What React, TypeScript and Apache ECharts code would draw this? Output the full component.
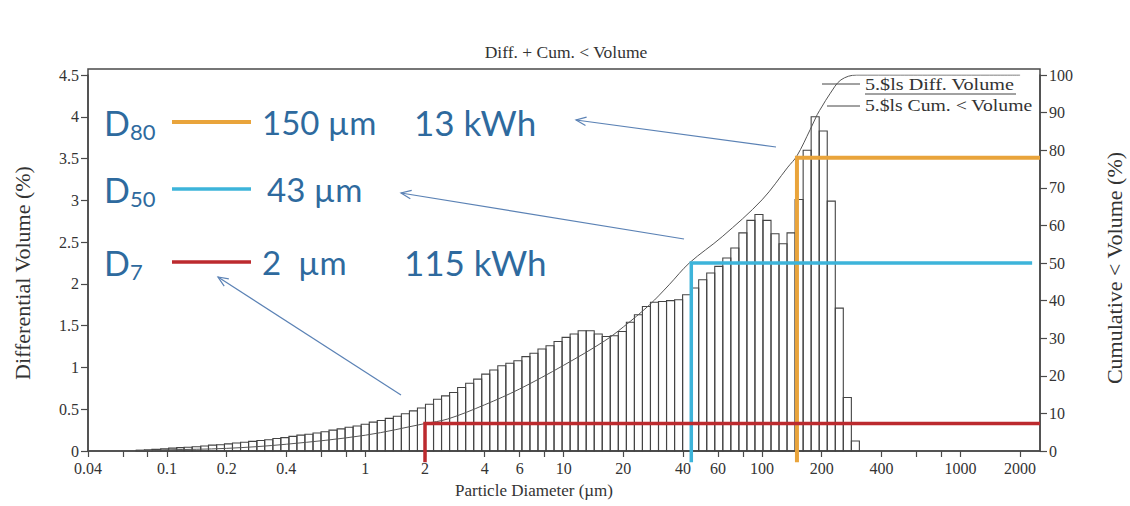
import React, { useEffect, useRef } from "react";
import * as echarts from "echarts";

// ---------- data ----------
const TITLE = "Diff. + Cum. < Volume";
const X_NAME = "Particle Diameter (µm)";
const Y_LEFT_NAME = "Differential Volume (%)";
const Y_RIGHT_NAME = "Cumulative < Volume (%)";
const LEGEND_DIFF = "5.$ls Diff. Volume";
const LEGEND_CUM = "5.$ls Cum. < Volume";

const X_MIN = 0.04;
const X_MAX = 2520;
const X_TICK_LABELS = [0.04, 0.1, 0.2, 0.4, 1, 2, 4, 6, 10, 20, 40, 60, 100, 200, 400, 1000, 2000];
const X_TICK_MARKS = [0.04, 0.06, 0.08, 0.1, 0.2, 0.4, 0.6, 0.8, 1, 2, 4, 6, 8, 10, 20, 40, 60, 80, 100, 200, 400, 600, 800, 1000, 2000];

// channel edges (µm) of the size classes that carry volume
const CHANNEL_EDGES = [
  0.070, 0.077, 0.084, 0.093, 0.102, 0.112, 0.122, 0.134, 0.148, 0.162,
  0.178, 0.195, 0.214, 0.235, 0.258, 0.284, 0.311, 0.342, 0.375, 0.412,
  0.452, 0.496, 0.545, 0.598, 0.656, 0.721, 0.791, 0.868, 0.953, 1.047,
  1.149, 1.261, 1.385, 1.520, 1.669, 1.832, 2.011, 2.208, 2.423, 2.660,
  2.920, 3.206, 3.519, 3.863, 4.241, 4.656, 5.111, 5.611, 6.159, 6.761,
  7.422, 8.148, 8.944, 9.819, 10.78, 11.83, 12.99, 14.26, 15.65, 17.18,
  18.86, 20.71, 22.73, 24.95, 27.39, 30.07, 33.01, 36.24, 39.78, 43.67,
  47.94, 52.63, 57.77, 63.42, 69.62, 76.43, 83.90, 92.10, 101.1, 111.0,
  121.8, 133.7, 146.8, 161.2, 176.9, 194.2, 213.2, 234.1, 256.9, 282.1,
  309.6,
];

// differential volume (%) per channel
const DIFF_VOLUME = [
  0.01, 0.015, 0.02, 0.025, 0.035, 0.04, 0.045, 0.05, 0.06, 0.07,
  0.075, 0.085, 0.095, 0.105, 0.115, 0.125, 0.135, 0.15, 0.16, 0.175,
  0.19, 0.2, 0.215, 0.23, 0.25, 0.265, 0.285, 0.3, 0.32, 0.345,
  0.365, 0.39, 0.415, 0.445, 0.48, 0.515, 0.56, 0.62, 0.66, 0.70,
  0.76, 0.81, 0.86, 0.92, 0.97, 1.02, 1.05, 1.08, 1.13, 1.17,
  1.22, 1.26, 1.31, 1.36, 1.40, 1.44, 1.44, 1.40, 1.37, 1.38,
  1.43, 1.54, 1.63, 1.73, 1.78, 1.79, 1.80, 1.81, 1.87, 1.95,
  2.05, 2.13, 2.21, 2.31, 2.43, 2.61, 2.76, 2.83, 2.76, 2.60,
  2.48, 2.61, 3.01, 3.60, 4.00, 3.83, 2.99, 1.71, 0.64, 0.12,
];

// cumulative < volume (%)
const CUM_DIAMETER = [0.07, 0.1, 0.2, 0.4, 1, 2, 2.6, 4, 6, 10, 16, 20, 27, 34, 43, 63, 100, 135, 150, 175, 190, 200, 220, 250, 300, 500, 2000];
const CUM_VOLUME = [0, 0.3, 0.7, 1.8, 4.2, 7.3, 8.5, 12.3, 16.5, 22.8, 29.2, 33, 38.8, 44.2, 50, 57, 66.8, 75.5, 78.5, 85.5, 89.5, 91.5, 95, 98.7, 100, 100, 100];

// D-value markers (size µm, cumulative level %, end of horizontal µm)
const MARKER_SIZE = [150, 44, 2];
const MARKER_LEVEL = [78, 50, 7.3];
const MARKER_END = [2520, 2300, 2520];
const MARKER_COLOR = ["#E9A43B", "#3DB4DA", "#BC2A2E"];
const MARKER_WIDTH = [4, 3.5, 3.5];

// big annotations
const ANN_SUB = ["80", "50", "7"];
const ANN_SIZE_TEXT = ["150 µm", "43 µm", "2  µm"];
const ANN_ENERGY_TEXT = ["13 kWh", "", "115 kWh"];

const lg = (v: number) => Math.log10(v);

export default function App() {
  const ref = useRef<HTMLDivElement>(null);

  useEffect(() => {
    if (!ref.current) return;
    const chart = echarts.init(ref.current, undefined, { renderer: "svg" });

    const SERIF = "Liberation Serif";
    const SANS = "Lato";
    const AX = "#4a4a4a";
    const TXT = "#2e6a9e";
    const ARROW = "#5b82b5";

    const labelFmt = (v: number) => {
      const m = X_TICK_LABELS.find((t) => Math.abs(lg(t) - v) < 1e-6);
      return m != null ? String(m) : "";
    };

    const barData = DIFF_VOLUME.map((v, i) => [lg(CHANNEL_EDGES[i]), lg(CHANNEL_EDGES[i + 1]), v]);
    const cumData = CUM_DIAMETER.map((d, i) => [lg(d), CUM_VOLUME[i]]);

    const markerSeries = MARKER_SIZE.map((s, i) => ({
      type: "line",
      xAxisIndex: 0,
      yAxisIndex: 1,
      clip: false,
      symbol: "none",
      silent: true,
      z: 6,
      lineStyle: { color: MARKER_COLOR[i], width: MARKER_WIDTH[i], join: "miter", cap: "butt" },
      data: [
        [lg(s), -3],
        [lg(s), MARKER_LEVEL[i]],
        [lg(MARKER_END[i]), MARKER_LEVEL[i]],
      ],
    }));

    const arrow = (x1: number, y1: number, x2: number, y2: number) => {
      const ang = Math.atan2(y1 - y2, x1 - x2);
      const L = 11;
      const a = 0.4;
      const h1 = [x2 + L * Math.cos(ang + a), y2 + L * Math.sin(ang + a)];
      const h2 = [x2 + L * Math.cos(ang - a), y2 + L * Math.sin(ang - a)];
      return [
        { type: "line", shape: { x1, y1, x2, y2 }, style: { stroke: ARROW, lineWidth: 1.2 } },
        { type: "polyline", shape: { points: [h1, [x2, y2], h2] }, style: { stroke: ARROW, lineWidth: 1.2, fill: "none" } },
      ];
    };

    const rowsY = [122, 189, 262];
    const annotations: any[] = [];
    rowsY.forEach((y, i) => {
      annotations.push({
        type: "text", x: 104, y, style: { text: "D", font: `34px ${SANS}`, fill: TXT, align: "left", verticalAlign: "middle" },
      });
      annotations.push({
        type: "text", x: 130, y: y + 9, style: { text: ANN_SUB[i], font: `22px ${SANS}`, fill: TXT, align: "left", verticalAlign: "middle" },
      });
      annotations.push({
        type: "line", shape: { x1: 172, y1: y, x2: 251, y2: y }, style: { stroke: MARKER_COLOR[i], lineWidth: MARKER_WIDTH[i] },
      });
      annotations.push({
        type: "text", x: i === 1 ? 267 : 262, y, style: { text: ANN_SIZE_TEXT[i], font: `33px ${SANS}`, fill: TXT, align: "left", verticalAlign: "middle" },
      });
      if (ANN_ENERGY_TEXT[i]) {
        annotations.push({
          type: "text", x: i === 0 ? 414 : 404, y, style: { text: ANN_ENERGY_TEXT[i], font: `35px ${SANS}`, fill: TXT, align: "left", verticalAlign: "middle" },
        });
      }
    });

    const option: any = {
      animation: false,
      backgroundColor: "#ffffff",
      grid: { left: 88, right: 90, top: 75, bottom: 55, containLabel: false },
      xAxis: {
        type: "value",
        min: lg(X_MIN),
        max: lg(X_MAX),
        axisLine: { show: true, onZero: false, lineStyle: { color: AX, width: 1.5 } },
        axisTick: { show: true, customValues: X_TICK_MARKS.map(lg), length: 6, lineStyle: { color: AX, width: 1.2 } },
        axisLabel: { customValues: X_TICK_LABELS.map(lg), formatter: labelFmt, fontFamily: SERIF, fontSize: 16, color: "#333", margin: 9 },
        splitLine: { show: false },
      },
      yAxis: [
        {
          type: "value",
          min: 0,
          max: 4.5,
          interval: 0.5,
          position: "left",
          axisLine: { show: true, onZero: false, lineStyle: { color: AX, width: 1.5 } },
          axisTick: { show: true, length: 7, lineStyle: { color: AX, width: 1.2 } },
          axisLabel: { fontFamily: SERIF, fontSize: 16, color: "#333", margin: 9 },
          splitLine: { show: false },
        },
        {
          type: "value",
          min: 0,
          max: 100,
          interval: 10,
          position: "right",
          axisLine: { show: true, onZero: false, lineStyle: { color: AX, width: 1.5 } },
          axisTick: { show: true, length: 7, lineStyle: { color: AX, width: 1.2 } },
          axisLabel: { fontFamily: SERIF, fontSize: 16, color: "#333", margin: 9 },
          splitLine: { show: false },
        },
      ],
      series: [
        {
          type: "custom",
          xAxisIndex: 0,
          yAxisIndex: 0,
          silent: true,
          z: 3,
          data: barData,
          encode: { x: [0, 1], y: 2 },
          renderItem: (_p: any, api: any) => {
            const a = api.coord([api.value(0), api.value(2)]);
            const b = api.coord([api.value(1), 0]);
            return {
              type: "rect",
              shape: { x: a[0], y: a[1], width: b[0] - a[0], height: b[1] - a[1] },
              style: { fill: "rgba(0,0,0,0)", stroke: "#444", lineWidth: 1.1 },
            };
          },
        },
        {
          type: "line",
          xAxisIndex: 0,
          yAxisIndex: 1,
          symbol: "none",
          smooth: 0.35,
          silent: true,
          z: 4,
          lineStyle: { color: "#555", width: 1 },
          data: cumData,
        },
        ...markerSeries,
      ],
      graphic: [
        {
          type: "rect", z: 1, silent: true,
          shape: { x: 88, y: 69, width: 952, height: 382 },
          style: { fill: "none", stroke: AX, lineWidth: 1.5 },
        },
        {
          type: "text", x: 566, y: 52,
          style: { text: TITLE, font: `17.5px ${SERIF}`, fill: "#333", align: "center", verticalAlign: "middle" },
        },
        {
          type: "text", x: 534, y: 490,
          style: { text: X_NAME, font: `17px ${SERIF}`, fill: "#333", align: "center", verticalAlign: "middle" },
        },
        {
          type: "text", x: 22, y: 273, rotation: Math.PI / 2,
          style: { text: Y_LEFT_NAME, font: `22px ${SERIF}`, fill: "#333", align: "center", verticalAlign: "middle" },
        },
        {
          type: "text", x: 1114, y: 268, rotation: Math.PI / 2,
          style: { text: Y_RIGHT_NAME, font: `22px ${SERIF}`, fill: "#333", align: "center", verticalAlign: "middle" },
        },
        // legend
        { type: "line", shape: { x1: 822, y1: 84, x2: 860, y2: 84 }, style: { stroke: "#444", lineWidth: 1 } },
        { type: "line", shape: { x1: 827, y1: 106, x2: 860, y2: 106 }, style: { stroke: "#444", lineWidth: 1 } },
        { type: "line", shape: { x1: 865, y1: 94, x2: 1016, y2: 94 }, style: { stroke: "#444", lineWidth: 1 } },
        {
          type: "text", x: 865, y: 85, scaleX: 1.26,
          style: { text: LEGEND_DIFF, font: `16px ${SERIF}`, fill: "#333", align: "left", verticalAlign: "middle" },
        },
        {
          type: "text", x: 865, y: 106, scaleX: 1.23,
          style: { text: LEGEND_CUM, font: `16px ${SERIF}`, fill: "#333", align: "left", verticalAlign: "middle" },
        },
        ...arrow(776, 147, 576, 120),
        ...arrow(684, 239, 401, 193),
        ...arrow(401, 395, 218, 277),
        ...annotations,
      ],
    };

    chart.setOption(option);
    return () => chart.dispose();
  }, []);

  return <div ref={ref} style={{ position: "absolute", left: 0, top: 0, width: 1130, height: 506 }} />;
}
